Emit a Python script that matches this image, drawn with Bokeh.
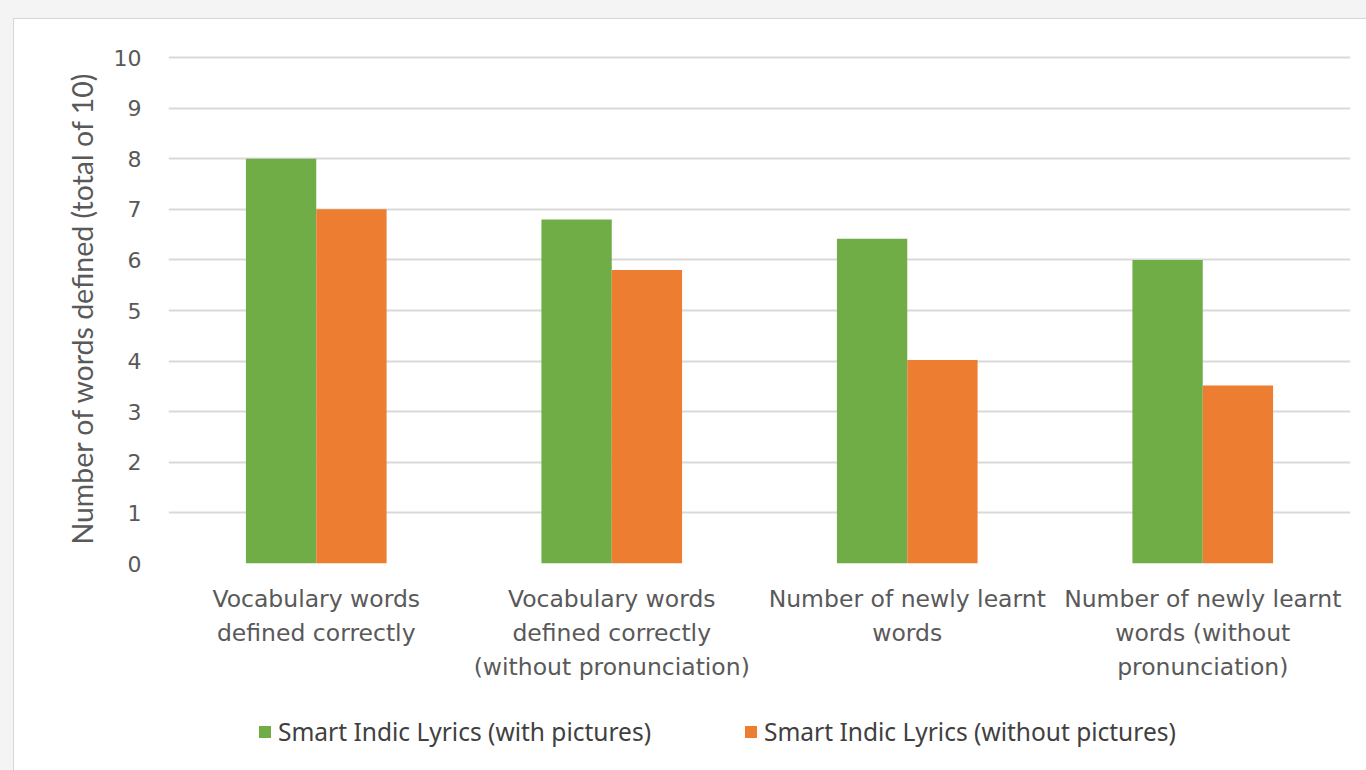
from bokeh.plotting import figure
from bokeh.models import FactorRange, Range1d, Legend, LegendItem
from bokeh.layouts import column
from bokeh.transform import dodge
from bokeh.embed import file_html
from bokeh.resources import INLINE

categories = [
    "Vocabulary words\ndefined correctly",
    "Vocabulary words\ndefined correctly\n(without pronunciation)",
    "Number of newly learnt\nwords",
    "Number of newly learnt\nwords (without\npronunciation)",
]
with_pictures = [8.0, 6.8, 6.42, 6.0]
without_pictures = [7.0, 5.8, 4.02, 3.52]
series_names = ["Smart Indic Lyrics (with pictures)", "Smart Indic Lyrics (without pictures)"]
y_ticks = list(range(0, 11))

GREEN = "#70ad47"
ORANGE = "#ed7d31"
W = 1352

p = figure(
    x_range=FactorRange(*categories, range_padding=0),
    y_range=Range1d(0, 10.1),
    width=W, height=682,
    output_backend="svg", toolbar_location=None,
    min_border_left=154, min_border_right=16,
    min_border_top=33, min_border_bottom=138,
)
p.outline_line_color = None
p.background_fill_color = "white"
p.border_fill_color = "white"

src = dict(cat=categories, a=with_pictures, b=without_pictures)
p.vbar(x=dodge("cat", -0.119, range=p.x_range), top="a", width=0.238, source=src,
       fill_color=GREEN, line_color=None)
p.vbar(x=dodge("cat", 0.119, range=p.x_range), top="b", width=0.238, source=src,
       fill_color=ORANGE, line_color=None)

# grid
p.xgrid.grid_line_color = None
p.ygrid.grid_line_color = "#d9d9d9"
p.ygrid.grid_line_width = 2
p.ygrid.level = "underlay"

# y axis
p.yaxis.ticker = y_ticks
p.yaxis.axis_line_color = None
p.yaxis.major_tick_line_color = None
p.yaxis.minor_tick_line_color = None
p.yaxis.major_label_text_font = "DejaVu Sans"
p.yaxis.major_label_text_font_size = "22px"
p.yaxis.major_label_text_color = "#595959"
p.yaxis.major_label_standoff = 21
p.yaxis.axis_label = "Number of words defined (total of 10)"
p.yaxis.axis_label_text_font = "Lato"
p.yaxis.axis_label_text_font_size = "28.5px"
p.yaxis.axis_label_text_font_style = "normal"
p.yaxis.axis_label_text_color = "#595959"
p.yaxis.axis_label_standoff = 12

# x axis
p.xaxis.axis_line_color = None
p.xaxis.major_tick_line_color = None
p.xaxis.minor_tick_line_color = None
p.xaxis.major_label_text_font = "DejaVu Sans"
p.xaxis.major_label_text_font_size = "23.5px"
p.xaxis.major_label_text_line_height = 1.22
p.xaxis.major_label_text_color = "#595959"
p.xaxis.major_label_standoff = 15
p.xaxis.major_label_orientation = "horizontal"

# legend strip
p2 = figure(
    width=W, height=70, output_backend="svg", toolbar_location=None,
    x_axis_location=None, y_axis_location=None,
    x_range=Range1d(0, 1), y_range=Range1d(0, 1),
    min_border=0, min_border_left=0, min_border_right=0,
    min_border_top=0, min_border_bottom=0,
)
p2.outline_line_color = None
p2.grid.visible = False
p2.background_fill_color = "white"
p2.border_fill_color = "white"
g1 = p2.vbar(x=[-10], bottom=[-20], top=[-10], width=0.1, fill_color=GREEN, line_color=None)
g2 = p2.vbar(x=[-10], bottom=[-20], top=[-10], width=0.1, fill_color=ORANGE, line_color=None)

legend = Legend(
    items=[LegendItem(label=series_names[0], renderers=[g1]),
           LegendItem(label=series_names[1], renderers=[g2])],
    orientation="horizontal",
    location=(89, 23),
    glyph_width=15, glyph_height=15,
    label_standoff=6, spacing=92,
    padding=0, margin=0,
    border_line_color=None, background_fill_alpha=0,
    label_text_font="Noto Sans",
    label_text_font_size="24.5px",
    label_text_color="#404040",
)
p2.add_layout(legend, "center")

layout = column(p, p2, spacing=0)
layout.margin = (18, 0, 0, 13)
layout.styles = {"border-top": "1px solid #d6d6d6", "border-left": "1px solid #d6d6d6",
                 "background": "white"}

html = file_html(layout, INLINE)
style = "<style>html, body { background: #f4f4f4 !important; margin: 0 !important; }</style>"
html = html.replace("</head>", style + "</head>", 1)
open("out.html", "w").write(html)
